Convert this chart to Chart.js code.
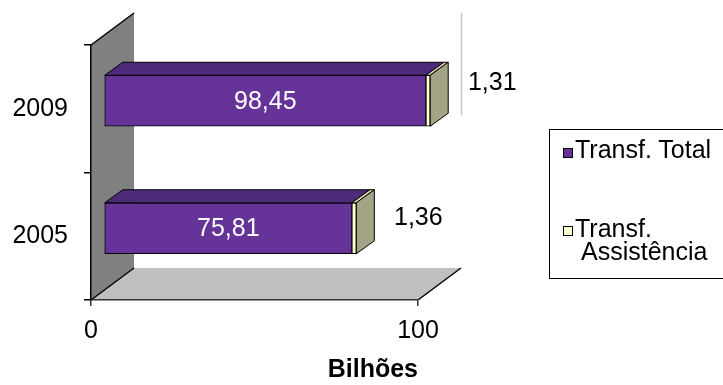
<!DOCTYPE html>
<html><head><meta charset="utf-8">
<script src="https://cdn.jsdelivr.net/npm/chart.js@4"></script>
<style>
html,body{margin:0;padding:0;background:#fff;overflow:hidden;}
#wrap{position:relative;width:723px;height:385px;overflow:hidden;}
#legend{position:absolute;left:549px;top:129px;width:200px;height:148px;border:1px solid #000;font:25px "Liberation Sans",Arial,sans-serif;color:#000;}
.sw{position:absolute;width:8px;height:8px;border:1px solid #000;}
.lt{position:absolute;white-space:nowrap;line-height:23px;}
</style></head>
<body><div id="wrap"><canvas id="c" width="723" height="385"></canvas><div id="legend"></div></div>
<script>
// ---- data ----
const categories = ['2009', '2005'];
const seriesNames = ['Transf. Total', 'Transf. Assistência'];
const transfTotal = [98.45, 75.81];
const transfAssistencia = [1.31, 1.36];
const xTickValues = [0, 100];
const axisTitle = 'Bilhões';

// ---- styles ----
const FONT = '"Liberation Sans", Arial, sans-serif';
const frontColors = ['#663399', '#ffffcc'];
const topColors = ['#4e2a7a', '#d8d8aa'];
const sideColor = '#a3a385';
const WALL = {x: 43, y: -32};     // depth of the whole plot box
const SHIFT = {x: 13, y: -8};     // bars sit a bit behind the front plane
const BDEPTH = {x: 18, y: -13};   // depth of each bar
const smallLabelOffset = {x: 62, dy: [-18, -10]};

const fmt = v => v.toFixed(2).replace('.', ',');

function line(ctx, x1, y1, x2, y2) { ctx.beginPath(); ctx.moveTo(x1, y1); ctx.lineTo(x2, y2); ctx.stroke(); }

const threeD = {
  id: 'threeD',
  beforeDraw(chart) {
    const {ctx, chartArea: a} = chart;
    ctx.save();
    ctx.fillStyle = '#808080';
    ctx.beginPath();
    ctx.moveTo(a.left, a.top); ctx.lineTo(a.left + WALL.x, a.top + WALL.y);
    ctx.lineTo(a.left + WALL.x, a.bottom + WALL.y); ctx.lineTo(a.left, a.bottom);
    ctx.closePath(); ctx.fill();
    ctx.fillStyle = '#c0c0c0';
    ctx.beginPath();
    ctx.moveTo(a.left, a.bottom); ctx.lineTo(a.right, a.bottom);
    ctx.lineTo(a.right + WALL.x, a.bottom + WALL.y); ctx.lineTo(a.left + WALL.x, a.bottom + WALL.y);
    ctx.closePath(); ctx.fill();
    ctx.strokeStyle = '#000'; ctx.lineWidth = 1.5;
    line(ctx, a.left, a.top, a.left + WALL.x, a.top + WALL.y);
    line(ctx, a.left, a.bottom, a.left + WALL.x, a.bottom + WALL.y);
    line(ctx, a.right, a.bottom, a.right + WALL.x, a.bottom + WALL.y);
    ctx.restore();
  },
  beforeDatasetsDraw(chart) {
    chart.ctx.save();
    chart.ctx.translate(SHIFT.x, SHIFT.y);
  },
  afterDatasetsDraw(chart) {
    const ctx = chart.ctx;
    const n = chart.data.datasets.length;
    ctx.lineWidth = 1; ctx.strokeStyle = '#000';
    for (let d = 0; d < n; d++) {
      const meta = chart.getDatasetMeta(d);
      meta.data.forEach(el => {
        const x0 = Math.min(el.base, el.x), x1 = Math.max(el.base, el.x);
        const yT = el.y - el.height / 2, yB = el.y + el.height / 2;
        ctx.fillStyle = topColors[d];
        ctx.beginPath();
        ctx.moveTo(x0, yT); ctx.lineTo(x1, yT); ctx.lineTo(x1 + BDEPTH.x, yT + BDEPTH.y); ctx.lineTo(x0 + BDEPTH.x, yT + BDEPTH.y);
        ctx.closePath(); ctx.fill(); ctx.stroke();
        if (d === n - 1) {
          ctx.fillStyle = sideColor;
          ctx.beginPath();
          ctx.moveTo(x1, yT); ctx.lineTo(x1 + BDEPTH.x, yT + BDEPTH.y); ctx.lineTo(x1 + BDEPTH.x, yB + BDEPTH.y); ctx.lineTo(x1, yB);
          ctx.closePath(); ctx.fill(); ctx.stroke();
        }
      });
    }
    // value labels
    ctx.font = '25px ' + FONT;
    ctx.textAlign = 'center'; ctx.textBaseline = 'middle';
    const m0 = chart.getDatasetMeta(0), m1 = chart.getDatasetMeta(1);
    m0.data.forEach((el, i) => {
      ctx.fillStyle = '#fff';
      ctx.fillText(fmt(chart.data.datasets[0].data[i]), (el.base + el.x) / 2, el.y + 1);
    });
    m1.data.forEach((el, i) => {
      ctx.fillStyle = '#000';
      ctx.fillText(fmt(chart.data.datasets[1].data[i]), el.x + smallLabelOffset.x, el.y + smallLabelOffset.dy[i]);
    });
    ctx.restore();
    // thin grey back edge line
    const a = chart.chartArea;
    const top0 = m1.data[0];
    ctx.save();
    ctx.strokeStyle = '#c4c4c4'; ctx.lineWidth = 1.5;
    const xr = Math.round(a.right + WALL.x) + 0.5;
    line(ctx, xr, a.top + WALL.y, xr, top0.y + top0.height / 2 + SHIFT.y + BDEPTH.y + 2);
    ctx.restore();
  }
};

const chart = new Chart(document.getElementById('c'), {
  type: 'bar',
  data: {
    labels: categories,
    datasets: [
      {label: seriesNames[0], data: transfTotal, backgroundColor: frontColors[0]},
      {label: seriesNames[1], data: transfAssistencia, backgroundColor: frontColors[1]}
    ].map(ds => Object.assign(ds, {borderColor: '#000', borderWidth: 1, borderSkipped: false, barThickness: 51, clip: false}))
  },
  options: {
    indexAxis: 'y',
    responsive: false,
    animation: false,
    devicePixelRatio: 1,
    layout: {padding: {left: 0, top: 45, right: 305, bottom: 0}},
    plugins: {legend: {display: false}, tooltip: {enabled: false}},
    scales: {
      x: {
        stacked: true, min: 0, max: 100,
        afterFit: s => { s.height = 85; },
        afterBuildTicks: s => { s.ticks = xTickValues.map(v => ({value: v})); },
        ticks: {color: '#000', font: {family: FONT, size: 25}, padding: 10, maxRotation: 0},
        grid: {drawOnChartArea: false, drawTicks: true, tickLength: 6, color: '#333', lineWidth: 1.5},
        border: {display: true, color: '#333', width: 1.5},
        title: {display: true, text: axisTitle, align: 'end', color: '#000', font: {family: FONT, size: 25, weight: 'bold'}, padding: {top: 0, bottom: 0}}
      },
      y: {
        stacked: true,
        afterFit: s => { s.width = 91; },
        ticks: {color: '#000', font: {family: FONT, size: 25}, padding: 16},
        grid: {drawOnChartArea: false, drawTicks: true, tickLength: 7, color: '#000', lineWidth: 1.5},
        border: {display: true, color: '#000', width: 1.5}
      }
    }
  },
  plugins: [threeD]
});

// HTML legend from the dataset names
const leg = document.getElementById('legend');
const legPos = [{sw: 18, txt: 8}, {sw: 96, txt: 87}];
seriesNames.forEach((name, i) => {
  const sw = document.createElement('div');
  sw.className = 'sw'; sw.style.left = '13px'; sw.style.top = legPos[i].sw + 'px';
  sw.style.background = frontColors[i];
  leg.appendChild(sw);
  const words = name.split(' ');
  const lines = i === 1 ? [words[0], words.slice(1).join(' ')] : [name];
  lines.forEach((t, k) => {
    const el = document.createElement('div');
    el.className = 'lt'; el.textContent = t;
    el.style.left = (k === 0 ? 25 : 31) + 'px';
    el.style.top = (legPos[i].txt + k * 23) + 'px';
    leg.appendChild(el);
  });
});
</script>
</body></html>
